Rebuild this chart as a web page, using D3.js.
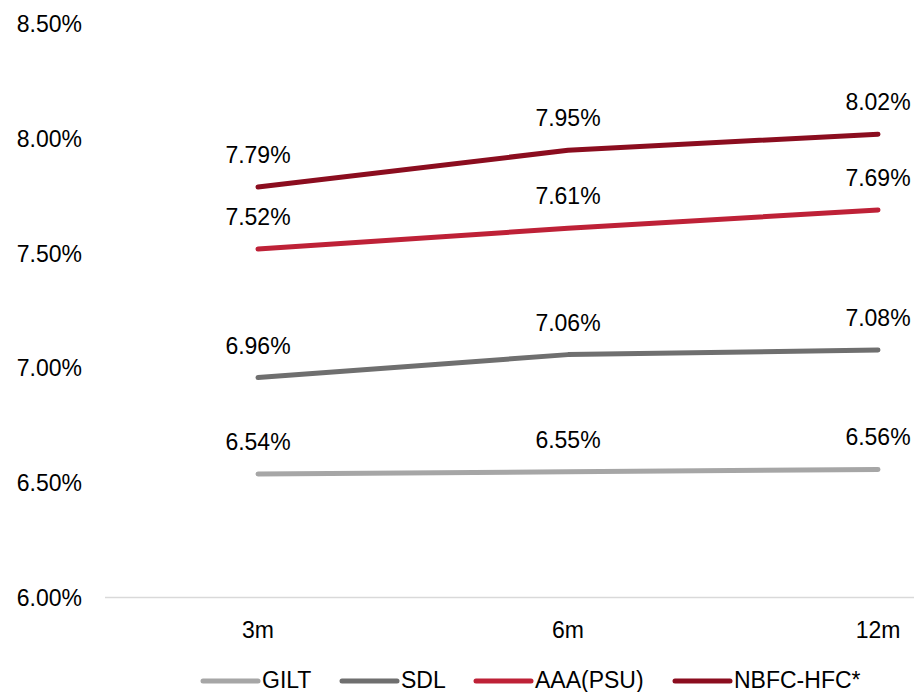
<!DOCTYPE html>
<html><head><meta charset="utf-8">
<script src="https://cdn.jsdelivr.net/npm/d3@7"></script>
<style>body{margin:0;background:#fff}svg{display:block}text{font-family:"Liberation Sans",Arial,sans-serif;fill:#000}</style>
</head><body><svg id="c" width="914" height="692"></svg>
<script>
const categories = ["3m","6m","12m"];
const seriesNames = ["GILT","SDL","AAA(PSU)","NBFC-HFC*"];
const gilt = [6.54,6.55,6.56];
const sdl = [6.96,7.06,7.08];
const aaa = [7.52,7.61,7.69];
const nbfc = [7.79,7.95,8.02];
const yTicks = [6.0,6.5,7.0,7.5,8.0,8.5];
const colors = ["#A6A6A6","#6F6F6F","#BE2137","#8B0D1F"];
const series = [gilt,sdl,aaa,nbfc];
const FS = 23;

const svg = d3.select("#c");
const x = d3.scalePoint().domain(categories).range([258,878]);
const y = d3.scaleLinear().domain([6.0,8.5]).range([598,24]);

// baseline
svg.append("line").attr("x1",105).attr("x2",914).attr("y1",y(6)-0.5).attr("y2",y(6)-0.5)
  .attr("stroke","#D9D9D9").attr("stroke-width",1.3);

// y labels
svg.selectAll(".yt").data(yTicks).enter().append("text")
  .attr("x",82).attr("y",d=>y(d)).attr("dy","0.35em").attr("text-anchor","end")
  .attr("font-size",FS).text(d=>d.toFixed(2)+"%");

// x labels
svg.selectAll(".xt").data(categories).enter().append("text")
  .attr("x",d=>x(d)).attr("y",630).attr("dy","0.35em").attr("text-anchor","middle")
  .attr("font-size",FS).text(d=>d);

const line = d3.line().x((d,i)=>x(categories[i])).y(d=>y(d));
series.forEach((s,k)=>{
  svg.append("path").attr("d",line(s)).attr("fill","none")
    .attr("stroke",colors[k]).attr("stroke-width",5).attr("stroke-linecap","round").attr("stroke-linejoin","round");
  svg.selectAll(".lb"+k).data(s).enter().append("text")
    .attr("x",(d,i)=>x(categories[i])).attr("y",d=>y(d)-32).attr("dy","0.35em")
    .attr("text-anchor","middle").attr("font-size",FS).text(d=>d.toFixed(2)+"%");
});

// legend
const legX = [203,342,476,675];
seriesNames.forEach((n,k)=>{
  svg.append("line").attr("x1",legX[k]).attr("x2",legX[k]+55).attr("y1",681).attr("y2",681)
    .attr("stroke",colors[k]).attr("stroke-width",5).attr("stroke-linecap","round");
  svg.append("text").attr("x",legX[k]+59).attr("y",680).attr("dy","0.35em")
    .attr("font-size",FS).text(n);
});
</script></body></html>
